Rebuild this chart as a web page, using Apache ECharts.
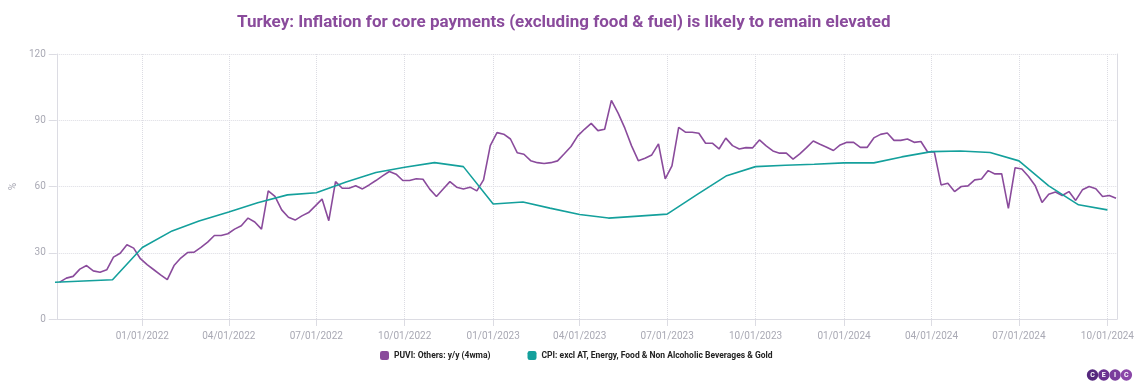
<!DOCTYPE html>
<html><head><meta charset="utf-8">
<script src="https://cdn.jsdelivr.net/npm/echarts@6/dist/echarts.min.js"></script>
<style>html,body{margin:0;padding:0;background:#fff}#c{width:1140px;height:390px}</style>
</head><body><div id="c"></div>
<script>
const titleText = 'Turkey: Inflation for core payments (excluding food & fuel) is likely to remain elevated';
const seriesNames = ['PUVI: Others: y/y (4wma)', 'CPI: excl AT, Energy, Food & Non Alcoholic Beverages & Gold'];
const yAxisName = '%';
const yMin = 0, yMax = 120, yStep = 30;
const xRange = ['2021-10-04', '2024-10-11'];
const logoLetters = ['C', 'E', 'I', 'C'];

// PUVI weekly (Thursdays) starting date
const puviStart = '2021-10-07';
const puviValues = [
  16.7, 18.5, 19.3, 22.6, 24.2, 21.8, 21.2, 22.3, 28.0, 29.8,
  33.6, 32.1, 27.3, 24.6, 22.3, 20.0, 17.8, 24.2, 27.6, 30.1,
  30.3, 32.4, 34.8, 37.8, 37.8, 38.6, 40.7, 42.2, 45.7, 43.9,
  40.7, 58.0, 55.5, 49.4, 46.1, 44.8, 46.7, 48.2, 51.2, 54.3,
  44.5, 62.2, 59.2, 59.2, 60.3, 58.9, 60.7, 62.7, 64.8, 66.8,
  65.6, 62.7, 62.7, 63.5, 63.3, 58.8, 55.5, 58.9, 62.2, 59.7,
  58.9, 59.7, 58.0, 63.0, 78.5, 84.4, 83.7, 81.5, 75.3, 74.6,
  71.7, 70.8, 70.4, 70.8, 71.6, 74.8, 78.1, 82.9, 85.9, 88.6,
  85.3, 85.9, 99.0, 93.2, 86.4, 78.4, 71.7, 72.8, 74.3, 79.3,
  63.5, 69.3, 86.8, 84.6, 84.6, 84.1, 79.6, 79.6, 77.0, 81.9,
  78.5, 77.0, 77.6, 77.5, 81.1, 78.4, 76.1, 75.1, 75.1, 72.4,
  74.8, 77.6, 80.6, 79.1, 77.8, 76.3, 78.8, 80.0, 80.0, 77.7,
  77.7, 82.0, 83.6, 84.2, 80.9, 80.9, 81.5, 80.0, 80.4, 75.6,
  75.6, 60.7, 61.5, 57.7, 60.0, 60.3, 63.0, 63.4, 67.2, 65.7,
  65.8, 50.1, 68.5, 67.9, 64.5, 60.3, 52.8, 56.5, 57.5, 55.9,
  57.7, 53.7, 58.5, 60.0, 59.0, 55.5, 55.9, 54.7
];

// CPI monthly
const cpiDates = [
  '2021-10-01','2021-11-01','2021-12-01','2022-01-01','2022-02-01','2022-03-01',
  '2022-04-01','2022-05-01','2022-06-01','2022-07-01','2022-08-01','2022-09-01',
  '2022-10-01','2022-11-01','2022-12-01','2023-01-01','2023-02-01','2023-03-01',
  '2023-04-01','2023-05-01','2023-06-01','2023-07-01','2023-08-01','2023-09-01',
  '2023-10-01','2023-11-01','2023-12-01','2024-01-01','2024-02-01','2024-03-01',
  '2024-04-01','2024-05-01','2024-06-01','2024-07-01','2024-08-01','2024-09-01',
  '2024-10-01'
];
const cpiValues = [
  16.6, 17.2, 17.8, 32.4, 39.9, 44.4,
  48.5, 52.6, 56.2, 57.2, 62.0, 66.3,
  68.7, 70.8, 69.0, 52.1, 53.0, 50.2,
  47.3, 45.7, 46.6, 47.5, 56.3, 64.9,
  69.0, 69.6, 70.1, 70.7, 70.7, 73.4,
  75.8, 76.1, 75.4, 71.6, 60.3, 51.7,
  49.4
];

function parseLocal(s) { const p = s.split('-').map(Number); return new Date(p[0], p[1] - 1, p[2]).getTime(); }
function weekly(start, n) { const p = start.split('-').map(Number); const out = []; for (let i = 0; i < n; i++) out.push(new Date(p[0], p[1] - 1, p[2] + 7 * i).getTime()); return out; }
function pad(n) { return (n < 10 ? '0' : '') + n; }

const puviDates = weekly(puviStart, puviValues.length);
const puviData = puviValues.map((v, i) => [puviDates[i], v]);
const cpiData = cpiValues.map((v, i) => [parseLocal(cpiDates[i]), v]);

const COLORS = ['#8a4b9c', '#14a09c'];
const LABEL_COLOR = '#a9a9b4';
const AXIS_COLOR = '#dcdce3';
const FONT = 'Roboto';
const QUARTER = 110 * 24 * 3600 * 1000;

const chart = echarts.init(document.getElementById('c'), null, { renderer: 'canvas' });

const logoChildren = [];
const logoColors = ['#55287d', '#6a3290', '#7a3c9c', '#8a47a8'];
logoLetters.forEach((ch, i) => {
  logoChildren.push({ type: 'circle', shape: { cx: 1092.5 + i * 11.3, cy: 375, r: 5.7 }, style: { fill: logoColors[i] } });
  logoChildren.push({ type: 'text', style: { x: 1092.5 + i * 11.3, y: 375, text: ch, fill: '#fff', font: 'bold 7px Roboto', align: 'center', verticalAlign: 'middle' } });
});

chart.setOption({
  animation: false,
  backgroundColor: '#fff',
  title: {
    text: titleText, left: 232, top: 9,
    textStyle: { color: '#8a4b9c', fontSize: 17, fontWeight: 'bold', fontFamily: FONT }
  },
  legend: {
    bottom: 25, left: 375, itemGap: 37, itemWidth: 9, itemHeight: 9, icon: 'roundRect',
    textStyle: { fontSize: 8.5, fontWeight: 'bold', color: '#222', fontFamily: FONT },
    data: seriesNames
  },
  grid: { left: 54, right: 23, top: 54, bottom: 71, containLabel: false },
  xAxis: {
    type: 'time', min: parseLocal(xRange[0]), max: parseLocal(xRange[1]),
    splitNumber: 10, minInterval: QUARTER, maxInterval: QUARTER,
    axisLine: { show: true, lineStyle: { color: AXIS_COLOR } },
    axisTick: { show: true, length: 7, lineStyle: { color: AXIS_COLOR } },
    axisLabel: {
      color: LABEL_COLOR, fontSize: 10, fontFamily: FONT, margin: 12,
      formatter: function (v) { const d = new Date(v); return pad(d.getMonth() + 1) + '/' + pad(d.getDate()) + '/' + d.getFullYear(); }
    },
    splitLine: { show: true, lineStyle: { color: '#dcdce3', type: 'dotted' } }
  },
  yAxis: [{
    type: 'value', min: yMin, max: yMax, interval: yStep,
    name: yAxisName, nameLocation: 'middle', nameGap: 31, nameRotate: 90,
    nameTextStyle: { color: LABEL_COLOR, fontSize: 10, fontFamily: FONT },
    axisLine: { show: true, lineStyle: { color: AXIS_COLOR } },
    axisTick: { show: true, length: 8, lineStyle: { color: AXIS_COLOR } },
    axisLabel: { color: LABEL_COLOR, fontSize: 10, fontFamily: FONT, margin: 11 },
    splitLine: { show: true, lineStyle: { color: '#dcdce3', type: 'dotted' } }
  }, {
    type: 'value', position: 'right', min: yMin, max: yMax, interval: yStep,
    axisLine: { show: true, lineStyle: { color: AXIS_COLOR } },
    axisTick: { show: false }, axisLabel: { show: false }, splitLine: { show: false }
  }],
  series: [{
    name: seriesNames[0], type: 'line', data: puviData, showSymbol: false, symbol: 'none',
    lineStyle: { color: COLORS[0], width: 1.6 }, itemStyle: { color: COLORS[0] }
  }, {
    name: seriesNames[1], type: 'line', data: cpiData, showSymbol: false, symbol: 'none',
    lineStyle: { color: COLORS[1], width: 1.6 }, itemStyle: { color: COLORS[1] }
  }],
  graphic: [{ type: 'group', children: logoChildren }]
});
</script></body></html>
